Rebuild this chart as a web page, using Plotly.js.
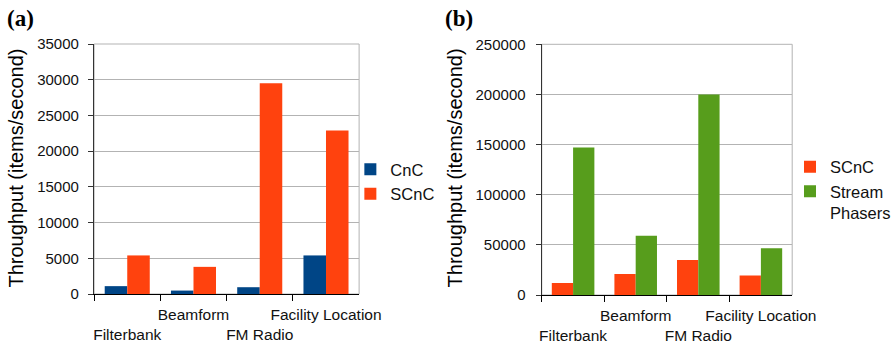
<!DOCTYPE html>
<html>
<head>
<meta charset="utf-8">
<script src="https://cdn.plot.ly/plotly-3.0.1.min.js"></script>
<style>html,body{margin:0;padding:0;background:#fff;}#chart{width:896px;height:347px;}</style>
</head>
<body>
<div id="chart"></div>
<script>
const categories = ['Filterbank', 'Beamform', 'FM Radio', 'Facility Location'];
const cncA = [1100, 480, 950, 5400];
const scncA = [5400, 3800, 29500, 22900];
const scncB = [12000, 21000, 35000, 19500];
const streamB = [147000, 59000, 200000, 46500];
const yTitle = 'Throughput (items/second)';
const panelLabels = ['(a)', '(b)'];

const BLUE = '#004586', ORANGE = '#ff420e', GREEN = '#579d1c';
const FONT = '"Liberation Sans", Arial, sans-serif';
const staggered = categories.map((c, i) => (i % 2 === 0 ? '<br>' + c : c));

const traces = [
  {type: 'bar', name: 'CnC', x: categories, y: cncA, marker: {color: BLUE}, xaxis: 'x', yaxis: 'y', legend: 'legend'},
  {type: 'bar', name: 'SCnC', x: categories, y: scncA, marker: {color: ORANGE}, xaxis: 'x', yaxis: 'y', legend: 'legend'},
  {type: 'bar', name: 'SCnC', x: categories, y: scncB, marker: {color: ORANGE}, xaxis: 'x2', yaxis: 'y2', legend: 'legend2'},
  {type: 'bar', name: 'Stream<br>Phasers', x: categories, y: streamB, marker: {color: GREEN}, xaxis: 'x2', yaxis: 'y2', legend: 'legend2'}
];

function xAxis(domain, anchor) {
  return {
    domain: domain, anchor: anchor, type: 'category', range: [-0.5, 3.5],
    tickmode: 'array', tickvals: categories, ticktext: staggered, tickangle: 0,
    tickson: 'boundaries', ticks: 'outside', ticklen: 6, tickcolor: '#000', tickwidth: 1,
    showline: true, linecolor: '#000', linewidth: 1.2, showgrid: false,
    ticklabelstandoff: 6,
    tickfont: {family: FONT, size: 15.5, color: '#111'}, automargin: false
  };
}
function yAxis(domain, anchor, max, dtick, standoff) {
  return {
    domain: domain, anchor: anchor, range: [0, max], dtick: dtick, tickformat: 'd',
    ticks: 'outside', ticklen: 5, tickcolor: '#333', showline: true, linecolor: '#333', linewidth: 1.2,
    showgrid: true, gridcolor: '#b3b3b3', gridwidth: 1, zeroline: false,
    ticklabelstandoff: standoff,
    tickfont: {family: FONT, size: 15, color: '#111'}, automargin: false
  };
}

const W = 896, H = 347;
const layout = {
  width: W, height: H, margin: {l: 0, r: 0, t: 0, b: 0},
  paper_bgcolor: '#fff', plot_bgcolor: '#fff',
  barmode: 'group', bargap: 0.32, bargroupgap: 0,
  font: {family: FONT, color: '#111'},
  xaxis: xAxis([96.7 / W, 369 / W], 'y'),
  yaxis: yAxis([1 - 294 / H, 1 - 44 / H], 'x', 35000, 5000, 6),
  xaxis2: xAxis([556.7 / W, 814 / W], 'y2'),
  yaxis2: yAxis([1 - 295 / H, 1 - 44.3 / H], 'x2', 250000, 50000, 7),
  legend: {x: 360 / W, y: 1 - 181.5 / H, xanchor: 'left', yanchor: 'middle', font: {family: FONT, size: 16.5, color: '#111'}, itemwidth: 30, bgcolor: 'rgba(0,0,0,0)'},
  legend2: {x: 812 / W, y: 1 - 190 / H, xanchor: 'left', yanchor: 'middle', valign: 'top', font: {family: FONT, size: 16.5, color: '#111'}, itemwidth: 30, bgcolor: 'rgba(0,0,0,0)'},
  shapes: [
    {type: 'rect', xref: 'x domain', yref: 'y domain', x0: 0, x1: 1, y0: 0, y1: 1, line: {color: '#b3b3b3', width: 1}, layer: 'below'},
    {type: 'rect', xref: 'x2 domain', yref: 'y2 domain', x0: 0, x1: 1, y0: 0, y1: 1, line: {color: '#b3b3b3', width: 1}, layer: 'below'}
  ],
  annotations: [
    {text: yTitle, xref: 'paper', yref: 'paper', x: 16 / W, y: 1 - 168 / H, textangle: -90, showarrow: false, xanchor: 'center', yanchor: 'middle', font: {family: FONT, size: 20, color: '#000'}},
    {text: yTitle, xref: 'paper', yref: 'paper', x: 468 / W, y: 1 - 168 / H, textangle: -90, showarrow: false, xanchor: 'center', yanchor: 'middle', font: {family: FONT, size: 20, color: '#000'}},
    {text: '<b>' + panelLabels[0] + '</b>', xref: 'paper', yref: 'paper', x: 5 / W, y: 1 - 19 / H, showarrow: false, xanchor: 'left', yanchor: 'middle', font: {family: '"Liberation Serif", "Times New Roman", serif', size: 23, color: '#000'}},
    {text: '<b>' + panelLabels[1] + '</b>', xref: 'paper', yref: 'paper', x: 455 / W, y: 1 - 19 / H, showarrow: false, xanchor: 'left', yanchor: 'middle', font: {family: '"Liberation Serif", "Times New Roman", serif', size: 23, color: '#000'}}
  ]
};

Plotly.newPlot('chart', traces, layout, {displayModeBar: false, staticPlot: true});
</script>
</body>
</html>
